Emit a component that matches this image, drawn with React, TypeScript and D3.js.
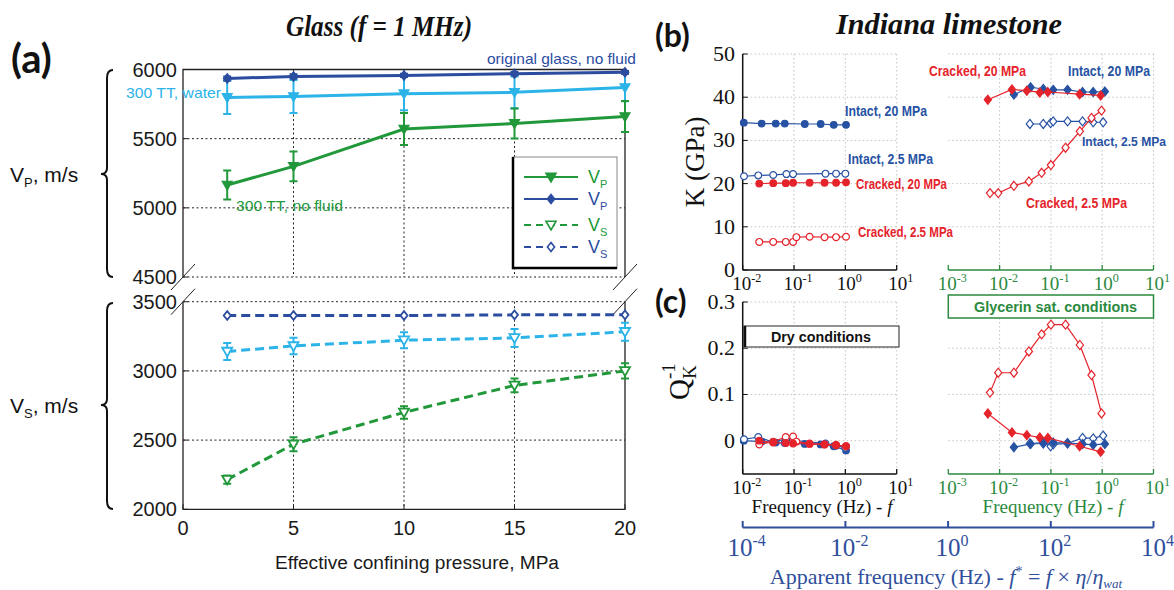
import * as d3 from "d3";
import { useEffect, useRef } from "react";

// ---------- (a) Glass, f = 1 MHz ----------
const pressure = [2, 5, 10, 15, 20];
const vpOriginal = [5935, 5950, 5957, 5970, 5980];
const vpOriginalErr = [15, 15, 12, 12, 10];
const vpWater = [5798, 5805, 5825, 5835, 5870];
const vpWaterErr = [120, 120, 120, 115, 100];
const vpDry = [5165, 5300, 5570, 5610, 5660];
const vpDryErr = [105, 108, 115, 108, 112];
const vsOriginal = [3400, 3400, 3400, 3405, 3405];
const vsWater = [3140, 3180, 3222, 3238, 3283];
const vsWaterErr = [62, 60, 58, 65, 65];
const vsDry = [2215, 2470, 2700, 2895, 3000];
const vsDryErr = [30, 50, 45, 50, 55];

const pressureTicks = [0, 5, 10, 15, 20];
const vpTicks = [4500, 5000, 5500, 6000];
const vsTicks = [2000, 2500, 3000, 3500];

// ---------- (b) K and (c) Q_K^-1, Indiana limestone ----------
// dry conditions
const fIntact20Dry = [0.0105, 0.0234, 0.044, 0.066, 0.162, 0.33, 0.594, 1.03];
const kIntact20Dry = [34.1, 33.9, 33.9, 33.9, 33.8, 33.8, 33.6, 33.6];
const qIntact20Dry = [0.0, -0.002, -0.004, -0.005, -0.007, -0.008, -0.012, -0.021];
const fIntact25Dry = [0.0106, 0.0201, 0.0393, 0.0711, 0.0957, 0.41, 0.659, 1.0];
const kIntact25Dry = [21.7, 21.9, 22.0, 22.2, 22.2, 22.3, 22.3, 22.3];
const qIntact25Dry = [0.003, 0.008, -0.003, 0.004, 0.001, -0.006, -0.011, -0.015];
const fCracked20Dry = [0.021, 0.0393, 0.069, 0.0957, 0.201, 0.393, 0.659, 1.03];
const kCracked20Dry = [20.0, 20.1, 20.1, 20.2, 20.2, 20.2, 20.2, 20.3];
const qCracked20Dry = [0.0, -0.004, -0.005, -0.006, -0.007, -0.008, -0.01, -0.012];
const fCracked25Dry = [0.021, 0.0393, 0.069, 0.0957, 0.111, 0.201, 0.393, 0.659, 1.03];
const kCracked25Dry = [6.5, 6.5, 6.5, 6.5, 7.6, 7.7, 7.6, 7.6, 7.7];
const qCracked25Dry = [-0.008, -0.002, 0.008, 0.009, -0.002, -0.006, -0.008, -0.009, -0.012];

// glycerin saturated
const fIntact20Gly = [0.019, 0.0402, 0.071, 0.111, 0.211, 0.414, 0.668, 1.127];
const kIntact20Gly = [40.6, 42.3, 41.9, 41.7, 41.7, 41.2, 41.2, 41.3];
const qIntact20Gly = [-0.014, -0.007, -0.006, -0.004, -0.005, -0.007, -0.009, -0.007];
const fIntact25Gly = [0.0389, 0.071, 0.0986, 0.111, 0.211, 0.414, 0.668, 1.045];
const kIntact25Gly = [33.8, 33.8, 34.0, 34.4, 34.4, 34.4, 34.2, 34.2];
const qIntact25Gly = [-0.006, -0.004, -0.012, -0.008, -0.006, 0.006, 0.005, 0.011];
const fCracked20Gly = [0.0059, 0.0174, 0.0339, 0.0607, 0.087, 0.363, 0.933];
const kCracked20Gly = [39.4, 41.8, 41.5, 41.1, 41.2, 40.7, 40.4];
const qCracked20Gly = [0.059, 0.018, 0.012, 0.007, 0.006, -0.012, -0.024];
const fCracked25Gly = [0.0065, 0.0094, 0.019, 0.0372, 0.066, 0.1, 0.193, 0.367, 0.619, 0.97];
const kCracked25Gly = [17.8, 17.8, 19.5, 20.5, 22.5, 24.3, 28.3, 32.1, 35.2, 36.9];
const qCracked25Gly = [0.104, 0.147, 0.147, 0.193, 0.23, 0.251, 0.251, 0.207, 0.142, 0.059];

const kTicks = [0, 10, 20, 30, 40, 50];
const qTicks = [0, 0.1, 0.2, 0.3];
const dryDecades = [-2, -1, 0, 1];
const glyDecades = [-3, -2, -1, 0, 1];
const apparentDecades = [-4, -2, 0, 2, 4];

const SANS = "'Liberation Sans', Arial, sans-serif";
const SERIF = "'Liberation Serif', 'Times New Roman', serif";
const LETTER = "Lato, 'Liberation Sans', sans-serif";

const DARK = "#2b4c9f";
const LIGHT = "#2cb3e8";
const GREEN = "#21983a";
const RED = "#e5232b";
const BLUE = "#2752a3";
const GLY = "#2b8a3e";
const APP = "#2f4f9c";

// kształt markera (circle / diamond / tri = trójkąt w dół)
const markerPath = (kind: string, s: number) => {
  if (kind === "diamond") return `M0,${-s * 1.25}L${s},0L0,${s * 1.25}L${-s},0Z`;
  if (kind === "tri") return `M${-s},${-s * 0.75}L${s},${-s * 0.75}L0,${s}Z`;
  return d3.symbol(d3.symbolCircle, Math.PI * s * s)();
};

const drawSeries = (g: any, xs: number[], ys: number[], sx: any, sy: any, o: any) => {
  const pts: [number, number][] = xs.map((x, i) => [sx(x), sy(ys[i])]);
  g.append("path")
    .attr("d", d3.line()(pts))
    .attr("fill", "none")
    .attr("stroke", o.color)
    .attr("stroke-width", o.width)
    .attr("stroke-dasharray", o.dash || null);
  g.selectAll(null)
    .data(pts)
    .enter()
    .append("path")
    .attr("transform", (d: number[]) => `translate(${d[0]},${d[1]})`)
    .attr("d", markerPath(o.marker, o.size))
    .attr("fill", o.filled ? o.color : "#fff")
    .attr("stroke", o.color)
    .attr("stroke-width", o.mw || 1.2);
};

const drawErrors = (g: any, xs: number[], ys: number[], es: number[], sx: any, sy: any, color: string) => {
  xs.forEach((x, i) => {
    const px = sx(x);
    const y0 = sy(ys[i] - es[i]);
    const y1 = sy(ys[i] + es[i]);
    g.append("path")
      .attr("d", `M${px},${y0}V${y1}M${px - 4},${y0}H${px + 4}M${px - 4},${y1}H${px + 4}`)
      .attr("stroke", color)
      .attr("stroke-width", 2)
      .attr("fill", "none");
  });
};

const text = (g: any, x: number, y: number, s: string, o: any = {}) => {
  const t = g.append("text")
    .attr("x", x)
    .attr("y", y)
    .attr("font-family", o.family || SANS)
    .attr("font-size", o.size || 14)
    .attr("font-weight", o.weight || "normal")
    .attr("font-style", o.style || "normal")
    .attr("fill", o.color || "#111")
    .attr("text-anchor", o.anchor || "start")
    .text(s);
  if (o.len) t.attr("textLength", o.len).attr("lengthAdjust", "spacingAndGlyphs");
  return t;
};

// "10" z wykładnikiem
const powLabel = (g: any, x: number, y: number, exp: number, size: number, color: string) => {
  const t = g.append("text")
    .attr("x", x)
    .attr("y", y)
    .attr("text-anchor", "middle")
    .attr("font-family", SERIF)
    .attr("font-size", size)
    .attr("fill", color);
  t.append("tspan").text("10");
  t.append("tspan").attr("dy", -size * 0.42).attr("font-size", size * 0.64).text(exp < 0 ? `-${-exp}` : `${exp}`);
};

const drawGlass = (svg: any) => {
  const x = d3.scaleLinear().domain([0, 20]).range([183, 625]);
  const yTop = d3.scaleLinear().domain([4500, 6000]).range([277, 69.5]);
  const yBot = d3.scaleLinear().domain([2000, 3500]).range([509.3, 301.7]);
  const g = svg.append("g");

  // siatka
  const grid = g.append("g").attr("stroke", "#222").attr("stroke-width", 1).attr("stroke-dasharray", "2,2.5");
  vpTicks.filter((t) => t < 6000).forEach((t) =>
    grid.append("line").attr("x1", x(0)).attr("x2", x(20)).attr("y1", yTop(t)).attr("y2", yTop(t)));
  vsTicks.filter((t) => t > 2000).forEach((t) =>
    grid.append("line").attr("x1", x(0)).attr("x2", x(20)).attr("y1", yBot(t)).attr("y2", yBot(t)));
  pressureTicks.filter((t) => t > 0 && t < 20).forEach((t) => {
    grid.append("line").attr("x1", x(t)).attr("x2", x(t)).attr("y1", yTop(6000)).attr("y2", yTop(4500));
    grid.append("line").attr("x1", x(t)).attr("x2", x(t)).attr("y1", yBot(3500)).attr("y2", yBot(2000));
  });

  // ramki
  g.append("path")
    .attr("d", `M${x(0)},${yTop(4500)}V${yTop(6000)}H${x(20)}V${yTop(4500)}`)
    .attr("fill", "none").attr("stroke", "#222").attr("stroke-width", 1.3);
  g.append("path")
    .attr("d", `M${x(0)},${yBot(3500)}V${yBot(2000)}H${x(20)}V${yBot(3500)}`)
    .attr("fill", "none").attr("stroke", "#222").attr("stroke-width", 1.3);

  // znaczniki osi
  vpTicks.forEach((t) => g.append("line").attr("x1", x(0)).attr("x2", x(0) + 5).attr("y1", yTop(t)).attr("y2", yTop(t)).attr("stroke", "#222"));
  vsTicks.forEach((t) => g.append("line").attr("x1", x(0)).attr("x2", x(0) + 5).attr("y1", yBot(t)).attr("y2", yBot(t)).attr("stroke", "#222"));
  pressureTicks.forEach((t) => g.append("line").attr("x1", x(t)).attr("x2", x(t)).attr("y1", yBot(2000)).attr("y2", yBot(2000) - 5).attr("stroke", "#222"));

  // etykiety osi
  vpTicks.forEach((t) => text(g, 177, yTop(t) + 7, String(t), { size: 20, anchor: "end", color: "#1a1a1a" }));
  vsTicks.forEach((t) => text(g, 177, yBot(t) + 7, String(t), { size: 20, anchor: "end", color: "#1a1a1a" }));
  pressureTicks.forEach((t) => text(g, x(t), 535, String(t), { size: 20, anchor: "middle", color: "#1a1a1a" }));
  text(g, 275, 569, "Effective confining pressure, MPa", { size: 18, len: 284, color: "#1a1a1a" });

  // przerwy osi
  [x(0), x(20)].forEach((px) => {
    [yTop(4500), yBot(3500)].forEach((py) => {
      g.append("line").attr("x1", px - 12).attr("y1", py + 13).attr("x2", px + 12).attr("y2", py - 13)
        .attr("stroke", "#222").attr("stroke-width", 1);
    });
  });

  // V_P
  drawErrors(g, pressure, vpWater, vpWaterErr, x, yTop, LIGHT);
  drawErrors(g, pressure, vpOriginal, vpOriginalErr, x, yTop, DARK);
  drawErrors(g, pressure, vpDry, vpDryErr, x, yTop, GREEN);
  drawSeries(g, pressure, vpWater, x, yTop, { color: LIGHT, width: 3, marker: "tri", size: 5, filled: true });
  drawSeries(g, pressure, vpOriginal, x, yTop, { color: DARK, width: 3, marker: "diamond", size: 3.8, filled: true });
  drawSeries(g, pressure, vpDry, x, yTop, { color: GREEN, width: 3, marker: "tri", size: 5, filled: true });

  // V_S
  drawErrors(g, pressure, vsWater, vsWaterErr, x, yBot, LIGHT);
  drawErrors(g, pressure, vsDry, vsDryErr, x, yBot, GREEN);
  drawSeries(g, pressure, vsOriginal, x, yBot, { color: DARK, width: 3, dash: "9,5", marker: "diamond", size: 3.5, filled: false, mw: 1.8 });
  drawSeries(g, pressure, vsWater, x, yBot, { color: LIGHT, width: 3, dash: "9,5", marker: "tri", size: 5, filled: false, mw: 1.8 });
  drawSeries(g, pressure, vsDry, x, yBot, { color: GREEN, width: 3, dash: "9,5", marker: "tri", size: 5, filled: false, mw: 1.8 });

  // opisy serii
  text(g, 487, 64, "original glass, no fluid", { size: 15, len: 149, color: DARK });
  text(g, 126, 98, "300 TT, water", { size: 15, len: 95, color: LIGHT });
  text(g, 236, 211, "300 TT, no fluid", { size: 15, len: 107, color: GREEN });

  // legenda
  const lg = g.append("g");
  lg.append("rect").attr("x", 513).attr("y", 157).attr("width", 104).attr("height", 111)
    .attr("fill", "#fff").attr("stroke", "#888").attr("stroke-width", 1);
  lg.append("path").attr("d", "M513,157V268H617").attr("fill", "none").attr("stroke", "#000").attr("stroke-width", 2.5);
  const entries = [
    { color: GREEN, marker: "tri", filled: true, dash: null, sub: "P", y: 177 },
    { color: DARK, marker: "diamond", filled: true, dash: null, sub: "P", y: 199 },
    { color: GREEN, marker: "tri", filled: false, dash: "7,5", sub: "S", y: 225 },
    { color: DARK, marker: "diamond", filled: false, dash: "7,5", sub: "S", y: 247 },
  ];
  entries.forEach((e) => {
    lg.append("line").attr("x1", 524).attr("x2", 578).attr("y1", e.y).attr("y2", e.y)
      .attr("stroke", e.color).attr("stroke-width", 2.2).attr("stroke-dasharray", e.dash);
    lg.append("path").attr("transform", `translate(551,${e.y})`)
      .attr("d", markerPath(e.marker, e.marker === "tri" ? 5 : 3.6))
      .attr("fill", e.filled ? e.color : "#fff").attr("stroke", e.color).attr("stroke-width", 1.6);
    const t = text(lg, 588, e.y + 6, "V", { size: 18, color: e.color });
    t.append("tspan").attr("dy", 5).attr("font-size", 11).text(e.sub);
  });

  // klamry i etykiety osi Y
  const brace = (y0: number, tip: number, y1: number) =>
    `M113,${y0}Q107,${y0} 107,${y0 + 8}L107,${tip - 6}Q107,${tip} 101,${tip}Q107,${tip} 107,${tip + 6}L107,${y1 - 8}Q107,${y1} 113,${y1}`;
  g.append("path").attr("d", brace(70, 174, 277)).attr("fill", "none").attr("stroke", "#111").attr("stroke-width", 2);
  g.append("path").attr("d", brace(303, 405, 509)).attr("fill", "none").attr("stroke", "#111").attr("stroke-width", 2);
  const vp = text(g, 10, 182, "V", { size: 21 });
  vp.append("tspan").attr("dy", 5).attr("font-size", 13).text("P");
  vp.append("tspan").attr("dy", -5).text(", m/s");
  const vs = text(g, 10, 413, "V", { size: 21 });
  vs.append("tspan").attr("dy", 5).attr("font-size", 13).text("S");
  vs.append("tspan").attr("dy", -5).text(", m/s");

  // tytuł i litera
  text(g, 286, 36, "Glass (f = 1 MHz)", { family: SERIF, size: 29, weight: "bold", style: "italic", len: 186 });
  text(g, 11, 73, "(a)", { family: LETTER, size: 40, weight: "bold" });
};

const drawLimestone = (svg: any) => {
  const xDry = d3.scaleLog().domain([1e-2, 1e1]).range([742.7, 896.7]);
  const xGly = d3.scaleLog().domain([1e-3, 1e1]).range([948.3, 1153.5]);
  const xApp = d3.scaleLog().domain([1e-4, 1e4]).range([742.7, 1153.5]);
  const yK = d3.scaleLinear().domain([0, 50]).range([270, 54]);
  const yQ = d3.scaleLinear().domain([-0.072, 0.3]).range([474, 302]);
  const g = svg.append("g");

  const panels = [
    { x: xDry, decades: dryDecades, color: "#111" },
    { x: xGly, decades: glyDecades, color: GLY },
  ];
  const rows = [
    { y: yK, ticks: kTicks, fmt: (t: number) => String(t) },
    { y: yQ, ticks: qTicks, fmt: (t: number) => (t === 0 ? "0" : t.toFixed(1)) },
  ];

  rows.forEach((r) => {
    const [yb, yt] = r.y.range();
    panels.forEach((p, pi) => {
      const [x0, x1] = p.x.range();
      const grid = g.append("g").attr("stroke", "#c4c4c4").attr("stroke-width", 1).attr("stroke-dasharray", "1.5,2.5");
      r.ticks.filter((t) => r.y(t) < yb - 1).forEach((t) =>
        grid.append("line").attr("x1", x0).attr("x2", x1).attr("y1", r.y(t)).attr("y2", r.y(t)));
      p.decades.slice(1).forEach((d) =>
        grid.append("line").attr("x1", p.x(10 ** d)).attr("x2", p.x(10 ** d)).attr("y1", yt).attr("y2", yb));
      // oś X
      g.append("line").attr("x1", x0).attr("x2", x1).attr("y1", yb).attr("y2", yb)
        .attr("stroke", p.color).attr("stroke-width", 1.5);
      p.decades.forEach((d) => {
        g.append("line").attr("x1", p.x(10 ** d)).attr("x2", p.x(10 ** d)).attr("y1", yb).attr("y2", yb - 5)
          .attr("stroke", p.color).attr("stroke-width", 1.3);
        powLabel(g, p.x(10 ** d) + 4, yb + 20, d, 19, p.color);
      });
      if (pi === 0) {
        g.append("line").attr("x1", x0).attr("x2", x0).attr("y1", yt).attr("y2", yb)
          .attr("stroke", "#111").attr("stroke-width", 1.5);
        r.ticks.forEach((t) => {
          g.append("line").attr("x1", x0).attr("x2", x0 + 5).attr("y1", r.y(t)).attr("y2", r.y(t)).attr("stroke", "#111");
          text(g, 735, r.y(t) + 7, r.fmt(t), { family: SERIF, size: 22, anchor: "end" });
        });
      }
    });
  });

  // (b) K
  drawSeries(g, fIntact20Dry, kIntact20Dry, xDry, yK, { color: BLUE, width: 1.2, marker: "circle", size: 3.3, filled: true });
  drawSeries(g, fIntact25Dry, kIntact25Dry, xDry, yK, { color: BLUE, width: 1.2, marker: "circle", size: 3.4, filled: false });
  drawSeries(g, fCracked20Dry, kCracked20Dry, xDry, yK, { color: RED, width: 1.2, marker: "circle", size: 3.3, filled: true });
  drawSeries(g, fCracked25Dry, kCracked25Dry, xDry, yK, { color: RED, width: 1.2, marker: "circle", size: 3.4, filled: false });
  drawSeries(g, fIntact25Gly, kIntact25Gly, xGly, yK, { color: BLUE, width: 1.2, marker: "diamond", size: 3.6, filled: false });
  drawSeries(g, fCracked25Gly, kCracked25Gly, xGly, yK, { color: RED, width: 1.2, marker: "diamond", size: 3.6, filled: false });
  drawSeries(g, fIntact20Gly, kIntact20Gly, xGly, yK, { color: BLUE, width: 1.2, marker: "diamond", size: 3.6, filled: true });
  drawSeries(g, fCracked20Gly, kCracked20Gly, xGly, yK, { color: RED, width: 1.2, marker: "diamond", size: 3.6, filled: true });

  // (c) Q
  drawSeries(g, fIntact20Dry, qIntact20Dry, xDry, yQ, { color: BLUE, width: 1.2, marker: "circle", size: 3.3, filled: true });
  drawSeries(g, fIntact25Dry, qIntact25Dry, xDry, yQ, { color: BLUE, width: 1.2, marker: "circle", size: 3.4, filled: false });
  drawSeries(g, fCracked25Dry, qCracked25Dry, xDry, yQ, { color: RED, width: 1.2, marker: "circle", size: 3.4, filled: false });
  drawSeries(g, fCracked20Dry, qCracked20Dry, xDry, yQ, { color: RED, width: 1.2, marker: "circle", size: 3.3, filled: true });
  drawSeries(g, fIntact25Gly, qIntact25Gly, xGly, yQ, { color: BLUE, width: 1.2, marker: "diamond", size: 3.6, filled: false });
  drawSeries(g, fIntact20Gly, qIntact20Gly, xGly, yQ, { color: BLUE, width: 1.2, marker: "diamond", size: 3.6, filled: true });
  drawSeries(g, fCracked25Gly, qCracked25Gly, xGly, yQ, { color: RED, width: 1.2, marker: "diamond", size: 3.6, filled: false });
  drawSeries(g, fCracked20Gly, qCracked20Gly, xGly, yQ, { color: RED, width: 1.2, marker: "diamond", size: 3.6, filled: true });

  // opisy serii (b)
  const lab = { size: 14, weight: "bold" };
  text(g, 845, 116, "Intact, 20 MPa", { ...lab, color: BLUE, len: 82 });
  text(g, 848, 164, "Intact, 2.5 MPa", { ...lab, color: BLUE, len: 85 });
  text(g, 856, 189, "Cracked, 20 MPa", { ...lab, color: RED, len: 91 });
  text(g, 858, 237, "Cracked, 2.5 MPa", { ...lab, color: RED, len: 95 });
  text(g, 929, 76, "Cracked, 20 MPa", { ...lab, color: RED, len: 97 });
  text(g, 1068, 76, "Intact, 20 MPa", { ...lab, color: BLUE, len: 82 });
  text(g, 1082, 146, "Intact, 2.5 MPa", { size: 13, weight: "bold", color: BLUE, len: 84 });
  text(g, 1026, 208, "Cracked, 2.5 MPa", { ...lab, color: RED, len: 101 });

  // ramki warunków
  g.append("rect").attr("x", 948.3).attr("y", 295).attr("width", 205.2).attr("height", 23)
    .attr("fill", "#fff").attr("stroke", GLY).attr("stroke-width", 1.5);
  text(g, 974, 312, "Glycerin sat. conditions", { size: 14, weight: "bold", color: GLY, len: 163 });
  g.append("rect").attr("x", 744).attr("y", 326).attr("width", 155).attr("height", 21)
    .attr("fill", "#fff").attr("stroke", "#222").attr("stroke-width", 1);
  g.append("line").attr("x1", 745).attr("x2", 745).attr("y1", 326).attr("y2", 347).attr("stroke", "#111").attr("stroke-width", 2.5);
  text(g, 771, 342, "Dry conditions", { size: 14, weight: "bold", color: "#111", len: 100 });

  // etykiety osi
  const fLab = (x: number, color: string) => {
    const t = text(g, x, 513, "Frequency (Hz) - ", { family: SERIF, size: 19, color, anchor: "middle" });
    t.append("tspan").attr("font-style", "italic").text("f");
  };
  fLab(822, "#111");
  fLab(1053, GLY);

  const kl = text(g, 0, 0, "K (GPa)", { family: SERIF, size: 27, anchor: "middle" });
  kl.attr("transform", "translate(704,162) rotate(-90)");

  const ql = g.append("g").attr("transform", "translate(689,400) rotate(-90)");
  text(ql, 0, 0, "Q", { family: SERIF, size: 29 });
  text(ql, 21, 7, "K", { family: SERIF, size: 19 });
  text(ql, 21, -14, "-1", { family: SERIF, size: 19 });

  // oś częstotliwości pozornej
  g.append("line").attr("x1", 742.7).attr("x2", 1153.5).attr("y1", 527.5).attr("y2", 527.5)
    .attr("stroke", APP).attr("stroke-width", 2);
  apparentDecades.forEach((d) => {
    g.append("line").attr("x1", xApp(10 ** d)).attr("x2", xApp(10 ** d)).attr("y1", 527.5).attr("y2", 521)
      .attr("stroke", APP).attr("stroke-width", 2);
    powLabel(g, xApp(10 ** d) + 4, 556, d, 25, APP);
  });
  const al = text(g, 946, 584, "Apparent frequency (Hz) - ", { family: SERIF, size: 22, color: APP, anchor: "middle" });
  al.append("tspan").attr("font-style", "italic").text("f");
  al.append("tspan").attr("dy", -8).attr("font-size", 14).text("*");
  al.append("tspan").attr("dy", 8).text(" = ");
  al.append("tspan").attr("font-style", "italic").text("f");
  al.append("tspan").text(" \u00d7 ");
  al.append("tspan").attr("font-style", "italic").text("\u03b7");
  al.append("tspan").text("/");
  al.append("tspan").attr("font-style", "italic").text("\u03b7");
  al.append("tspan").attr("dy", 4).attr("font-size", 13).attr("font-style", "italic").text("wat");

  // tytuł i litery
  text(g, 836, 34, "Indiana limestone", { family: SERIF, size: 29, weight: "bold", style: "italic", len: 226 });
  text(g, 655, 47, "(b)", { family: LETTER, size: 32, weight: "bold" });
  text(g, 655, 313, "(c)", { family: LETTER, size: 32, weight: "bold" });
};

const App = () => {
  const ref = useRef<SVGSVGElement>(null);

  useEffect(() => {
    const svg = d3.select(ref.current);
    svg.selectAll("*").remove();
    drawGlass(svg);
    drawLimestone(svg);
  }, []);

  return (
    <svg
      ref={ref}
      width={1174}
      height={590}
      style={{ position: "absolute", left: 0, top: 0, background: "#fff" }}
    />
  );
};

export default App;
